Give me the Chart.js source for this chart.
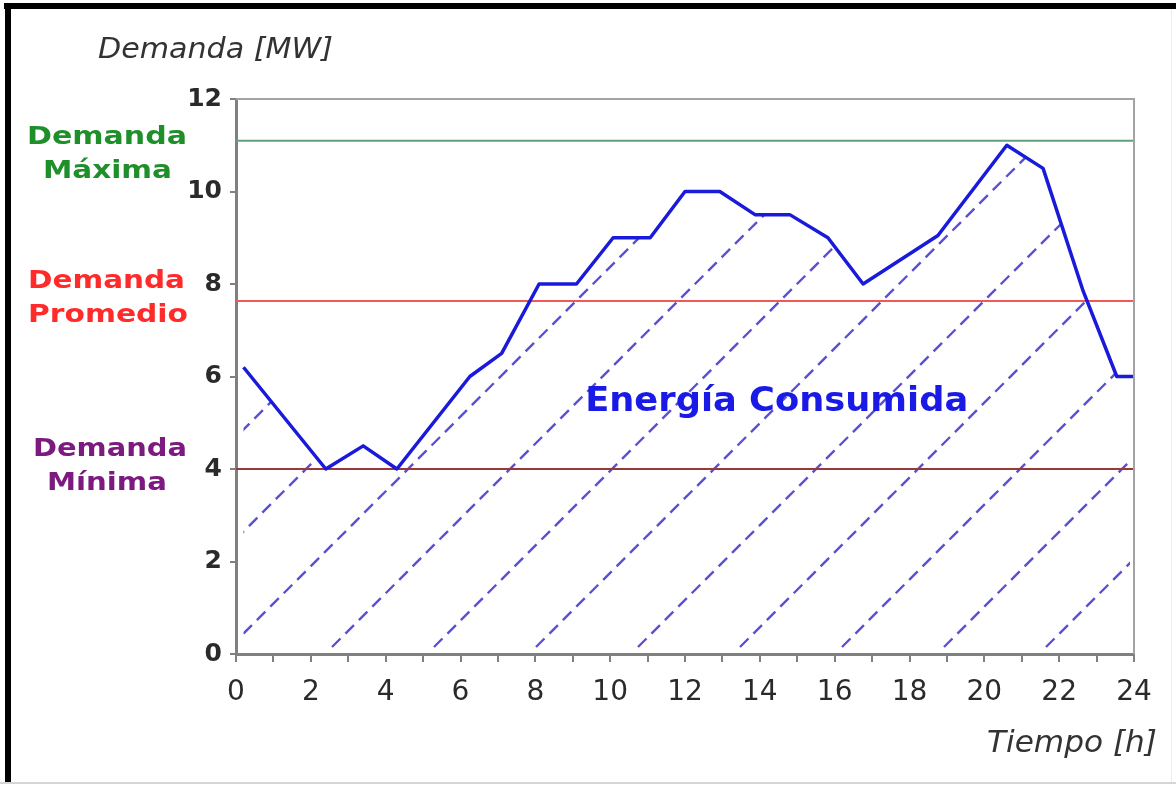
<!DOCTYPE html>
<html><head><meta charset="utf-8">
<script src="https://cdn.jsdelivr.net/npm/chart.js@4.4.1/dist/chart.umd.min.js"></script>
<style>html,body{margin:0;padding:0;background:#fff;} #wrap{position:relative;width:1176px;height:785px;} canvas{display:block;}</style>
</head><body><div id="wrap"><canvas id="c" width="1176" height="785"></canvas></div>
<script>
// ---- data ----
const hours  = [0.2, 2.4, 3.4, 4.3, 6.25, 7.1, 8.1, 9.1, 10.08, 11.07, 12.0, 12.93, 13.87, 14.8, 15.82, 16.76, 18.76, 20.6, 21.57, 22.64, 23.54, 24];
const demand = [6.2, 4.0, 4.5, 4.0, 6.0, 6.5, 8.0, 8.0, 9.0, 9.0, 10.0, 10.0, 9.5, 9.5, 9.0, 8.0, 9.05, 11.0, 10.5, 7.85, 6.0, 6.0];
const xTickLabels = [0, 2, 4, 6, 8, 10, 12, 14, 16, 18, 20, 22, 24];
const yTickLabels = [0, 2, 4, 6, 8, 10, 12];
const refNames  = ['Máxima', 'Promedio', 'Mínima'];
const refLevels = [11.1, 7.63, 4.0];
const refSpan   = [0, 24];
const areaLabel = 'Energía Consumida';
const yTitle = 'Demanda [MW]';
const xTitle = 'Tiempo [h]';

const refColors  = ['#62a07c', '#f25858', '#9a3838'];
const nameColors = ['#1f8f2a', '#ff2a2a', '#7d1a80'];

function fitText(ctx, text, x, baseline, font, width, align, color) {
  ctx.save();
  ctx.font = font;
  const w = ctx.measureText(text).width;
  ctx.translate(x, baseline);
  ctx.scale(width / w, 1);
  ctx.textAlign = align;
  ctx.textBaseline = 'alphabetic';
  ctx.fillStyle = color;
  ctx.fillText(text, 0, 0);
  ctx.restore();
}

const hatchPlugin = {
  id: 'hatch',
  beforeDatasetsDraw(chart) {
    const {ctx, chartArea: ca, scales} = chart;
    const pts = chart.getDatasetMeta(0).data;
    const y0 = scales.y.getPixelForValue(0);
    ctx.save();
    ctx.beginPath();
    ctx.moveTo(pts[0].x, y0);
    pts.forEach(p => ctx.lineTo(p.x, p.y));
    ctx.lineTo(pts[pts.length - 1].x, y0);
    ctx.closePath();
    ctx.clip();
    ctx.beginPath();
    ctx.rect(ca.left + 3, ca.top, ca.right - ca.left - 7, ca.bottom - ca.top - 6);
    ctx.clip();
    ctx.strokeStyle = '#5a50d8';
    ctx.lineWidth = 2.4;
    ctx.setLineDash([12, 7]);
    const step = 102;
    const anchor = ca.left + 96;
    const yb = ca.bottom - 7;
    const H = ca.bottom - ca.top + 20;
    for (let k = -12; k <= 12; k++) {
      const x0 = anchor + k * step;
      ctx.beginPath();
      ctx.moveTo(x0, yb);
      ctx.lineTo(x0 + H, yb - H);
      ctx.stroke();
    }
    ctx.restore();
  },
  afterDatasetsDraw(chart) {
    const {ctx, chartArea: ca} = chart;
    ctx.save();
    ctx.strokeStyle = '#a3a3a3';
    ctx.lineWidth = 2;
    ctx.beginPath();
    ctx.moveTo(ca.left, ca.top);
    ctx.lineTo(ca.right, ca.top);
    ctx.lineTo(ca.right, ca.bottom);
    ctx.stroke();
    ctx.restore();
  },
  afterDraw(chart) {
    const {ctx, scales} = chart;
    // frame
    ctx.save();
    ctx.fillStyle = '#000';
    ctx.fillRect(4, 3, 1172, 6);
    ctx.fillRect(5, 3, 6, 779);
    ctx.fillStyle = '#d6d6d6';
    ctx.fillRect(0, 782, 1176, 2);
    ctx.fillStyle = '#ededed';
    ctx.fillRect(1171, 9, 1, 773);
    ctx.restore();
    // titles
    fitText(ctx, yTitle, 98, 58, 'italic 29px "DejaVu Sans"', 235, 'left', '#333');
    fitText(ctx, xTitle, 987, 752, 'italic 30px "DejaVu Sans"', 170, 'left', '#333');
    // area label
    const ex = scales.x.getPixelForValue(14.45);
    const ey = scales.y.getPixelForValue(5.25);
    fitText(ctx, areaLabel, ex, ey, 'bold 33px "DejaVu Sans"', 383, 'center', '#1a1ae6');
    // left labels
    const f = 'bold 25px "DejaVu Sans"';
    const rows = [
      {b1: 144, w1: 160, c1: 107, b2: 178, w2: 129, c2: 107.5},
      {b1: 288, w1: 157, c1: 106.5, b2: 322, w2: 160, c2: 108},
      {b1: 456, w1: 154, c1: 110, b2: 490, w2: 120, c2: 107}
    ];
    rows.forEach((r, i) => {
      fitText(ctx, 'Demanda', r.c1, r.b1, f, r.w1, 'center', nameColors[i]);
      fitText(ctx, refNames[i], r.c2, r.b2, f, r.w2, 'center', nameColors[i]);
    });
  }
};

Chart.defaults.font.family = '"DejaVu Sans"';

const refDatasets = refLevels.map((lv, i) => ({
  label: refNames[i],
  data: refSpan.map(x => ({x: x, y: lv})),
  borderColor: refColors[i],
  borderWidth: 2,
  pointRadius: 0,
  fill: false
}));

new Chart(document.getElementById('c'), {
  type: 'line',
  data: {
    datasets: [
      {
        label: 'Demanda',
        data: hours.map((h, i) => ({x: h, y: demand[i]})),
        borderColor: '#1a1adb',
        borderWidth: 3.5,
        pointRadius: 0,
        tension: 0,
        fill: false,
        borderJoinStyle: 'round'
      },
      ...refDatasets
    ]
  },
  options: {
    responsive: false,
    animation: false,
    layout: {padding: {left: 166, right: 42, top: 99, bottom: 31}},
    plugins: {legend: {display: false}, tooltip: {enabled: false}},
    scales: {
      x: {
        type: 'linear', min: 0, max: 24,
        ticks: {
          stepSize: 1, autoSkip: false, maxRotation: 0, padding: 14,
          color: '#2a2a2a', font: {size: 28},
          callback: v => xTickLabels.includes(v) ? String(v) : ''
        },
        grid: {drawOnChartArea: false, drawTicks: true, tickLength: 8, color: '#808080', lineWidth: 2},
        border: {color: '#808080', width: 3},
        afterFit: s => { s.height = 100; }
      },
      y: {
        type: 'linear', min: 0, max: 12,
        ticks: {
          stepSize: 2, padding: 8, color: '#2a2a2a', font: {size: 25, weight: 'bold'},
          callback: v => yTickLabels.includes(v) ? String(v) : ''
        },
        grid: {drawOnChartArea: false, drawTicks: true, tickLength: 6, color: '#808080', lineWidth: 2},
        border: {color: '#808080', width: 3},
        afterFit: s => { s.width = 70; }
      }
    }
  },
  plugins: [hatchPlugin]
});
</script></body></html>
